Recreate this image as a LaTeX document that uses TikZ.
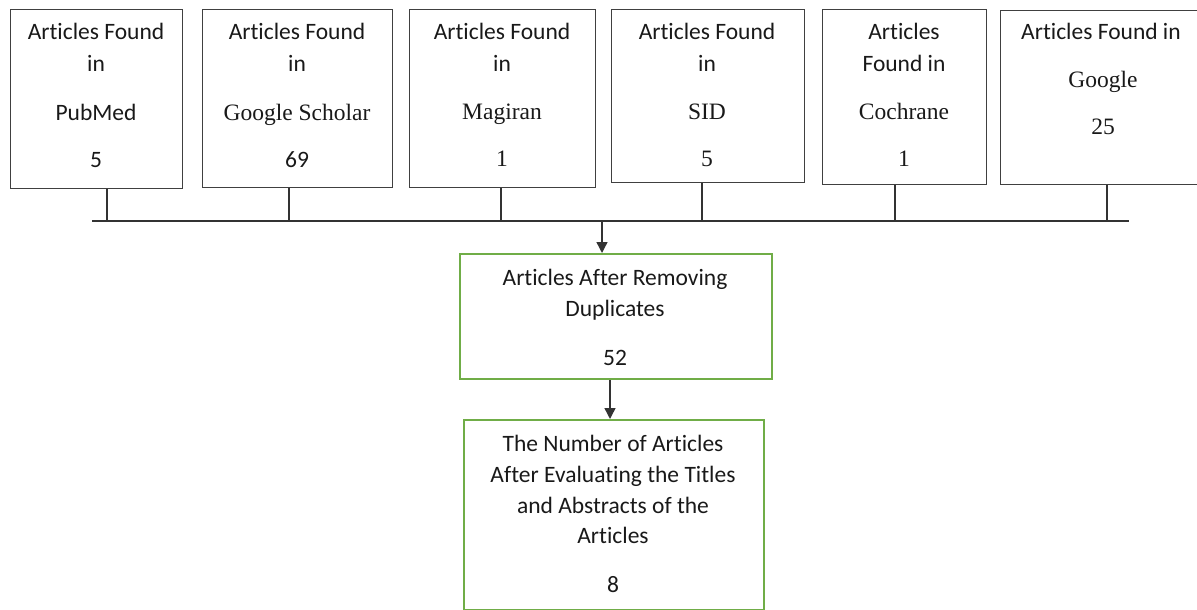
\documentclass[tikz,border=0pt]{standalone}
\usepackage{fontspec}
\setmainfont{Carlito}[Ligatures=NoCommon]
\newfontfamily\tms{Liberation Serif}
\usetikzlibrary{arrows.meta}
\definecolor{boxgray}{HTML}{404040}
\definecolor{boxgreen}{HTML}{70AD47}
\begin{document}
\begin{tikzpicture}[x=1pt,y=-1pt,
  srcbox/.style={draw=boxgray,line width=1.4pt,anchor=north west,inner sep=0pt},
  grnbox/.style={draw=boxgreen,line width=2.2pt,anchor=north west,inner sep=0pt},
  txt/.style={anchor=base,inner sep=0pt,font=\fontsize{23.5}{28}\selectfont,text=black!90},
  ttxt/.style={txt,font=\fontsize{23.5}{28}\selectfont\tms},
  conn/.style={draw=black!80,line width=1.4pt},
  arr/.style={conn,-{Triangle[width=11pt,length=11pt]}}]
\useasboundingbox (0,0) rectangle (1197,610);
\clip (0,0) rectangle (1197,610);
% source boxes
\node[srcbox,minimum width=172,minimum height=179] (b1) at (10,9) {};
\node[srcbox,minimum width=190,minimum height=178] (b2) at (202,9) {};
\node[srcbox,minimum width=186,minimum height=178] (b3) at (409,9) {};
\node[srcbox,minimum width=193,minimum height=173] (b4) at (611,9) {};
\node[srcbox,minimum width=164,minimum height=175] (b5) at (822,9) {};
\node[srcbox,minimum width=210,minimum height=174] (b6) at (1000,10) {};
% texts box 1
\node[txt] (t1a) at (96,40) {Articles Found};
\node[txt] (t1b) at (96,71) {in};
\node[txt] (t1c) at (96,120) {PubMed};
\node[txt] (t1d) at (96,167) {5};
% box 2
\node[txt] (t2a) at (297,40) {Articles Found};
\node[txt] (t2b) at (297,71) {in};
\node[ttxt] (t2c) at (297,120) {Google Scholar};
\node[txt] (t2d) at (297,167) {69};
% box 3
\node[txt] (t3a) at (502,40) {Articles Found};
\node[txt] (t3b) at (502,71) {in};
\node[ttxt] (t3c) at (502,119) {Magiran};
\node[ttxt] (t3d) at (502,166) {1};
% box 4
\node[txt] (t4a) at (707,40) {Articles Found};
\node[txt] (t4b) at (707,71) {in};
\node[ttxt] (t4c) at (707,119) {SID};
\node[ttxt] (t4d) at (707,166) {5};
% box 5
\node[txt] (t5a) at (904,40) {Articles};
\node[txt] (t5b) at (904,71) {Found in};
\node[ttxt] (t5c) at (904,119) {Cochrane};
\node[ttxt] (t5d) at (904,166) {1};
% box 6
\node[txt] (t6a) at (1101,40) {Articles Found in};
\node[ttxt] (t6b) at (1103,88) {Google};
\node[ttxt] (t6c) at (1103,134) {25};
% bus
\coordinate (busL) at (92,221);
\coordinate (busR) at (1129,221);
\coordinate (s1) at (107,221);
\coordinate (s2) at (289,221);
\coordinate (s3) at (501,221);
\coordinate (s4) at (702,221);
\coordinate (s5) at (895,221);
\coordinate (s6) at (1107,221);
\coordinate (sa) at (602,221);
\draw[conn] (busL) -- (busR);
\foreach \i in {1,...,6} {\draw[conn] (s\i |- b\i.south) -- (s\i);}
% green boxes
\node[grnbox,minimum width=312,minimum height=125] (A) at (459,253) {};
\node[txt] (tAa) at (615,285) {Articles After Removing};
\node[txt] (tAb) at (615,316) {Duplicates};
\node[txt] (tAc) at (615,365) {52};
\node[grnbox,minimum width=300,minimum height=190] (B) at (463,419) {};
\node[txt] (tBa) at (613,451) {The Number of Articles};
\node[txt] (tBb) at (613,482) {After Evaluating the Titles};
\node[txt] (tBc) at (613,513) {and Abstracts of the};
\node[txt] (tBd) at (613,543) {Articles};
\node[txt] (tBe) at (613,592) {8};
% arrows
\coordinate (sb) at (610,378);
\draw[arr] (sa) -- (sa |- A.north);
\draw[arr] (sb |- A.south) -- (sb |- B.north);
\end{tikzpicture}
\end{document}
